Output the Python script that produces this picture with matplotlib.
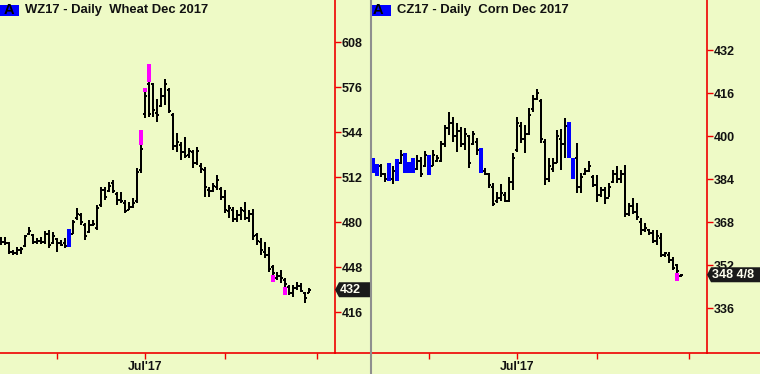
import matplotlib
matplotlib.use('Agg')
import matplotlib.pyplot as plt
from matplotlib.patches import Rectangle, Polygon
from matplotlib.lines import Line2D

BG = '#eefac6'
RED = '#ee0000'
W, H = 760, 374

# WZ17 - daily bars. open/close None -> bar shown only as a coloured block
wz_low = [463.9, 463.9, 457.5, 456.7, 456.7, 457.5, 462.4, 471.0, 464.6, 464.6,
          464.6, 464.6, 461.7, 464.6, 458.9, 463.2, 461.7, 462.4, 471.7, 481.6,
          478.1, 467.4, 472.4, 477.4, 474.5, 490.9, 495.9, 501.5, 500.8, 492.3,
          493.7, 486.6, 488.8, 490.2, 493.7, 515.1, 554.2, 554.9, 554.9, 551.3,
          562.0, 563.4, 557.7, 531.4, 530.0, 524.3, 525.7, 525.7, 518.6, 520.8,
          515.1, 498.0, 498.0, 501.5, 503.0, 495.9, 486.6, 483.0, 480.2, 480.2,
          481.6, 481.6, 480.2, 467.4, 463.9, 456.7, 454.6, 444.6, 442.5, 438.9,
          436.8, 434.0, 428.3, 426.9, 431.8, 430.4, 422.6, 429.7]
wz_high = [469.5, 469.5, 466.0, 460.3, 462.4, 462.4, 471.0, 476.7, 471.7, 468.8,
           469.5, 473.8, 474.5, 473.1, 468.8, 467.4, 468.8, 475.2, 481.6, 490.2,
           486.6, 479.5, 481.6, 481.6, 492.3, 505.1, 505.1, 508.7, 510.1, 501.5,
           501.5, 495.9, 494.4, 497.3, 518.6, 535.0, 572.7, 579.8, 579.1, 567.7,
           575.5, 581.9, 575.5, 557.7, 543.5, 537.1, 540.7, 532.8, 531.4, 533.5,
           522.2, 519.3, 505.1, 507.9, 513.6, 505.1, 503.0, 492.3, 490.9, 488.8,
           490.9, 494.4, 488.8, 489.5, 472.4, 468.8, 466.0, 462.4, 449.6, 444.6,
           446.1, 440.4, 435.4, 435.4, 437.5, 436.8, 430.4, 433.3]
wz_open = [468, 466, 465, 459, 458, 460, 463, 472, 471, 466,
           467, 466, 472, 465, 468, 465, 465, None, 472, 483,
           485, 478, 473, 478, 476, 492, 503, 502, 508, 500,
           496, 494, 489, 491, 495, 517, 557, 578, 578, 558,
           563, 570, 574, 556, 534, 535, 530, 528, 530, 522,
           520, 517, 503, 502, 505, 504, 498, 488, 489, 482,
           485, 488, 483, 486, 471, 466, 459, 457, 448, 440,
           442, 439, 434, 430, 433, 435, 430, 430]
wz_close = [466, 465, 459, 458, 460, 461, 470, 474, 466, 467,
            466, 472, 464, 470, 465, 464, 463, None, 480, 486,
            480, 470, 478, 479, 490, 503, 498, 506, 502, 496,
            495, 488, 491, 494, 516, 532, 570, 557, 560, 556,
            570, 578, 559, 534, 537, 530, 527, 531, 522, 531,
            518, 505, 502, 506, 510, 498, 489, 490, 482, 485,
            489, 483, 486, 470, 467, 460, 457, 447, 444, 442,
            440, 436, 430, 433, 435, 431, 426, 432]
wz_marks = [(17, 462.4, 475.2, '#0000ff'), (35, 535.0, 545.6, '#ff00ff'),
            (36, 572.7, 575.7, '#ff00ff'), (37, 579.8, 592.6, '#ff00ff'),
            (68, 437.5, 442.5, '#ff00ff'), (71, 428.3, 434.0, '#ff00ff')]
wz_ticks = [416, 448, 480, 512, 544, 576, 608]

# CZ17 - daily bars
cz_low = [386.2, 385.3, 385.0, 382.9, 383.5, 382.1, 383.5, 389.6, 386.4, 386.4,
          386.4, 387.4, 384.7, 388.7, 385.6, 388.9, 390.5, 390.5, 396.1, 400.5,
          398.0, 394.3, 395.9, 394.9, 388.3, 396.7, 393.0, 386.2, 385.6, 380.6,
          374.0, 375.1, 376.0, 375.6, 375.6, 380.0, 394.3, 397.4, 393.9, 400.5,
          409.1, 413.5, 397.5, 381.9, 383.1, 386.8, 390.0, 387.4, 391.8, 391.8,
          384.1, 378.8, 379.0, 385.6, 386.8, 381.2, 375.6, 377.5, 374.8, 377.5,
          382.5, 382.5, 382.5, 370.1, 370.3, 371.1, 368.8, 363.3, 364.5, 363.3,
          360.2, 359.5, 355.2, 355.2, 352.7, 350.2, 349.0, 347.7]
cz_high = [392.0, 389.8, 389.7, 386.4, 390.0, 388.9, 391.4, 394.9, 393.7, 390.4,
           392.0, 393.0, 392.4, 394.5, 393.0, 394.9, 393.0, 398.2, 404.2, 408.9,
           407.0, 404.8, 403.6, 403.2, 400.5, 402.1, 399.2, 395.7, 388.1, 386.2,
           382.5, 379.4, 382.2, 379.4, 384.7, 393.7, 407.0, 405.4, 404.2, 410.4,
           415.4, 417.5, 413.9, 399.0, 391.8, 391.8, 402.3, 402.6, 406.7, 405.4,
           392.0, 397.4, 386.2, 388.1, 390.8, 385.6, 385.6, 381.2, 381.2, 382.5,
           387.4, 388.9, 387.4, 389.3, 375.2, 376.9, 375.1, 369.5, 367.6, 365.7,
           365.1, 365.1, 363.9, 357.0, 357.0, 355.2, 352.5, 348.7]
cz_open = [None, None, 389, 386, None, 384, None, 390, None, None,
           None, 388, 391, 389, None, 389, 391, 391, 397, 403,
           405, 400, 402, 397, 400, 397, 398, None, 387, 386,
           381, 376, 377, 378, 376, 383, 395, 404, 399, 401,
           410, 414, 413, 398, 384, 388, 390, 399, 397, None,
           None, 392, 381, 386, 387, 385, 382, 378, 380, 377,
           383, 386, 384, 386, 371, 374, 372, 368, 365, 365,
           364, 361, 362, 356, 356, 354, 352, 348]
cz_close = [None, None, 386, 384, None, 387, None, 393, None, None,
            None, 391, 386, 393, None, 393, 392, 397, 403, 405,
            400, 402, 397, 401, 390, 401, 395, None, 386, 382,
            375, 377, 379, 376, 383, 392, 405, 399, 401, 408,
            414, 416, 399, 384, 389, 390, 400, 397, 404, None,
            None, 381, 385, 387, 389, 382, 378, 380, 377, 381,
            386, 384, 386, 371, 374, 372, 370, 365, 366, 364,
            361, 363, 356, 356.5, 354, 351, 350, 348.5]
cz_marks = [(0, 386.2, 392.0, '#0000ff'), (1, 385.3, 389.8, '#0000ff'),
            (4, 383.5, 390.0, '#0000ff'), (6, 383.5, 391.4, '#0000ff'),
            (8, 386.4, 393.7, '#0000ff'), (9, 386.4, 390.4, '#0000ff'),
            (10, 386.4, 392.0, '#0000ff'), (14, 385.6, 393.0, '#0000ff'),
            (27, 386.2, 395.7, '#0000ff'), (49, 391.8, 405.4, '#0000ff'),
            (50, 384.1, 392.0, '#0000ff'), (76, 346.1, 349.0, '#ff00ff')]
cz_ticks = [336, 352, 368, 384, 400, 416, 432]

month_ticks = [14, 36, 56, 79]
month_labels = ['', "Jul'17", '', '']

plt.rcParams['font.family'] = ['Liberation Sans', 'DejaVu Sans']
plt.rcParams['font.weight'] = 'bold'

fig = plt.figure(figsize=(W / 100, H / 100), dpi=100)
fig.patch.set_facecolor(BG)

bottom = (H - 353) / H
height = 353 / H
ax1 = fig.add_axes([0, bottom, 335 / W, height])
ax2 = fig.add_axes([372 / W, bottom, 335 / W, height])


def draw_panel(ax, lows, highs, opens, closes, marks, ylim, yticks, title, last_label):
    ax.set_facecolor(BG)
    ax.set_xlim(-0.25, 83.5)
    ax.set_ylim(*ylim)
    xs, lo, hi = [], [], []
    for i in range(len(lows)):
        if opens[i] is None:
            continue
        xs.append(i); lo.append(lows[i]); hi.append(highs[i])
        ax.plot([i - 0.55, i], [opens[i], opens[i]], color='black', lw=1.1,
                solid_capstyle='butt', antialiased=False)
        ax.plot([i, i + 0.55], [closes[i], closes[i]], color='black', lw=1.1,
                solid_capstyle='butt', antialiased=False)
    ax.vlines(xs, lo, hi, color='black', lw=1.2, antialiased=False)
    for i, a, b, c in marks:
        ax.add_patch(Rectangle((i - 0.4, a), 0.8, b - a, facecolor=c, lw=0, zorder=3,
                               antialiased=False))

    ax.yaxis.tick_right()
    ax.set_yticks(yticks)
    ax.set_yticklabels([str(v) for v in yticks])
    ax.tick_params(axis='y', colors=RED, length=4, width=1, pad=1,
                   labelcolor='#111111', labelsize=9)
    ax.set_xticks(month_ticks)
    ax.set_xticklabels(month_labels)
    ax.tick_params(axis='x', colors=RED, length=4, width=1, pad=1.5,
                   labelcolor='#111111', labelsize=8.8)
    for s in ['top', 'left']:
        ax.spines[s].set_visible(False)
    for s in ['right', 'bottom']:
        ax.spines[s].set_color(RED)
        ax.spines[s].set_linewidth(1.2)

    # "A" marker + title
    is_right = ax is ax2
    ax.add_patch(Rectangle((-3 / 335 if is_right else 0, 1 - 16 / 353),
                           22 / 335 if is_right else 19 / 335, 11 / 353,
                           transform=ax.transAxes, facecolor='#0000ff', lw=0,
                           clip_on=True, zorder=5))
    ax.text((6 if is_right else 9) / 335, 1 - 10.5 / 353, 'A', transform=ax.transAxes,
            ha='center', va='center', fontsize=10.5, color='black', clip_on=True, zorder=6)
    ax.text(25 / 335, 1 - 10.5 / 353, title, transform=ax.transAxes, ha='left',
            va='center', fontsize=9.4, color='#111111', zorder=6)

    # last price box on the axis
    pos = ax.get_position()
    last = [c for c in closes if c is not None][-1]
    yf = pos.y0 + (last - ylim[0]) / (ylim[1] - ylim[0]) * pos.height
    x0 = pos.x1
    x1 = 1.0 if is_right else 370 / W
    hh = 7.5 / H
    pts = [(x0, yf), (x0 + 4 / W, yf + hh), (x1, yf + hh), (x1, yf - hh), (x0 + 4 / W, yf - hh)]
    fig.patches.append(Polygon(pts, closed=True, transform=fig.transFigure,
                               facecolor='#1a1a1a', edgecolor='none', figure=fig))
    fig.text(x0 + 5 / W, yf, last_label, ha='left', va='center', fontsize=9,
             color='#fffff0')

    # bottom red line continues under the scale
    right_end = 1.0 if is_right else 370 / W
    fig.add_artist(Line2D([pos.x1, right_end], [pos.y0, pos.y0], color=RED, lw=1.2))


draw_panel(ax1, wz_low, wz_high, wz_open, wz_close, wz_marks, (387.0, 638.1), wz_ticks,
           'WZ17 - Daily  Wheat Dec 2017', '432')
draw_panel(ax2, cz_low, cz_high, cz_open, cz_close, cz_marks, (319.4, 450.7), cz_ticks,
           'CZ17 - Daily  Corn Dec 2017', '348 4/8')

# grey separator between the two charts
fig.add_artist(Line2D([370.8 / W, 370.8 / W], [0, 1], color='#8f8f8f', lw=1.5))

fig.savefig('out.png', dpi=100, facecolor=BG)
